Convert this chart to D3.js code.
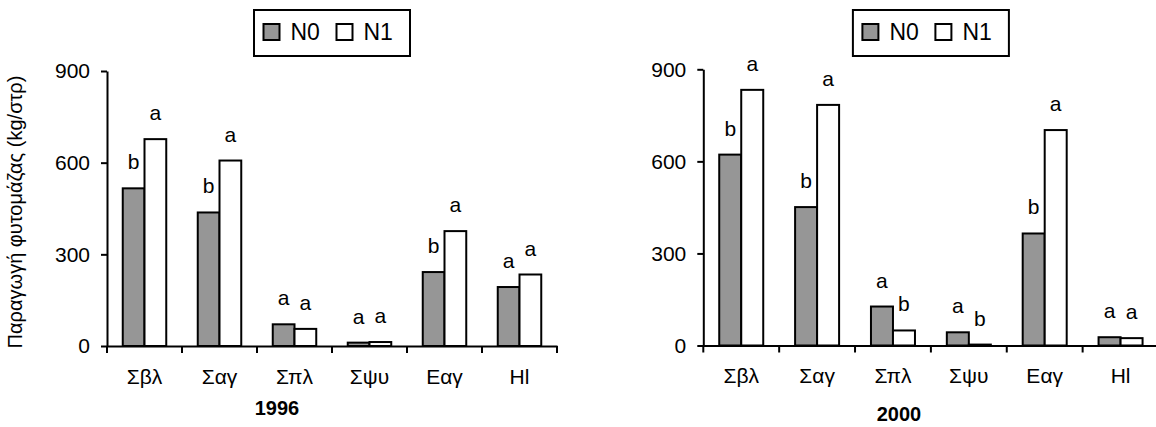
<!DOCTYPE html>
<html>
<head>
<meta charset="utf-8">
<script src="https://cdn.jsdelivr.net/npm/d3@7"></script>
<style>
  body { margin: 0; background: #fff; }
  svg { display: block; font-family: "Liberation Sans", Arial, sans-serif; }
</style>
</head>
<body>
<div id="chart"></div>
<script>
// chart values
const categories = ["Σβλ", "Σαγ", "Σπλ", "Σψυ", "Εαγ", "Hl"];
const series = ["N0", "N1"];
const yTicks = [0, 300, 600, 900];

const n0_1996 = [516, 437, 71, 11, 242, 193];
const n1_1996 = [677, 607, 56, 13, 376, 234];
const sig0_1996 = ["b", "b", "a", "a", "b", "a"];
const sig1_1996 = ["a", "a", "a", "a", "a", "a"];

const n0_2000 = [622, 451, 127, 43, 365, 27];
const n1_2000 = [833, 784, 49, 3, 702, 24];
const sig0_2000 = ["b", "b", "a", "a", "b", "a"];
const sig1_2000 = ["a", "a", "b", "b", "a", "a"];

const width = 1156;
const height = 427;
const gray = "#969696";
const pad = 0.42; // gap between category groups

const svg = d3.select("#chart").append("svg")
  .attr("width", width)
  .attr("height", height);

// y axis title (only on the left panel)
svg.append("text")
  .attr("transform", "translate(22,212) rotate(-90)")
  .attr("text-anchor", "middle")
  .style("font-size", "20px")
  .text("Παραγωγή φυτομάζας (kg/στρ)");

const panels = [
  { year: "1996", n0: n0_1996, n1: n1_1996, s0: sig0_1996, s1: sig1_1996,
    left: 107, right: 557, top: 71, bottom: 346, yearX: 277, yearY: 415 },
  { year: "2000", n0: n0_2000, n1: n1_2000, s0: sig0_2000, s1: sig1_2000,
    left: 703.3, right: 1158.5, top: 69.3, bottom: 345.5, yearX: 899, yearY: 421 }
];

panels.forEach(function (p) {
  const x = d3.scaleBand()
    .domain(categories)
    .range([p.left, p.right])
    .paddingInner(pad)
    .paddingOuter(pad / 2);

  const xs = d3.scaleBand()
    .domain(series)
    .range([0, x.bandwidth()]);

  const y = d3.scaleLinear()
    .domain([0, 900])
    .range([p.bottom, p.top]);

  const g = svg.append("g");

  const rows = categories.map(function (c, i) {
    return [
      { cat: c, key: "N0", value: p.n0[i], sig: p.s0[i] },
      { cat: c, key: "N1", value: p.n1[i], sig: p.s1[i] }
    ];
  }).flat();

  // bars
  g.selectAll("rect.bar")
    .data(rows)
    .enter().append("rect")
    .attr("class", "bar")
    .attr("x", d => x(d.cat) + xs(d.key))
    .attr("y", d => y(d.value))
    .attr("width", xs.bandwidth())
    .attr("height", d => y(0) - y(d.value))
    .attr("fill", d => d.key === "N0" ? gray : "#fff")
    .attr("stroke", "#000")
    .attr("stroke-width", 2);

  // significance letters
  g.selectAll("text.sig")
    .data(rows)
    .enter().append("text")
    .attr("class", "sig")
    .attr("x", d => x(d.cat) + xs(d.key) + xs.bandwidth() / 2)
    .attr("y", d => y(d.value) - 19)
    .attr("text-anchor", "middle")
    .style("font-size", "21px")
    .text(d => d.sig);

  // y axis
  const yAxis = g.append("g")
    .attr("transform", `translate(${p.left},0)`)
    .call(d3.axisLeft(y).tickValues(yTicks).tickSize(6).tickSizeOuter(0).tickPadding(11));
  yAxis.selectAll("path, line").attr("stroke", "#000").attr("stroke-width", 2);
  yAxis.selectAll("text").style("font-size", "21px").attr("fill", "#000")
    .style("font-family", "'Liberation Sans', Arial, sans-serif");

  // x axis
  const xAxis = g.append("g")
    .attr("transform", `translate(0,${p.bottom})`)
    .call(d3.axisBottom(x).tickSize(0).tickSizeOuter(0).tickPadding(23));
  xAxis.select("path").attr("stroke", "#000").attr("stroke-width", 2);
  xAxis.selectAll("text").style("font-size", "21px").attr("fill", "#000")
    .style("font-family", "'Liberation Sans', Arial, sans-serif");

  // boundary ticks between categories
  const bounds = categories.map(c => x(c) - x.step() * pad / 2).concat([p.right]);
  g.selectAll("line.bound")
    .data(bounds)
    .enter().append("line")
    .attr("class", "bound")
    .attr("x1", d => d).attr("x2", d => d)
    .attr("y1", p.bottom).attr("y2", p.bottom + 7)
    .attr("stroke", "#000")
    .attr("stroke-width", 2);

  // year label
  g.append("text")
    .attr("x", p.yearX)
    .attr("y", p.yearY)
    .attr("text-anchor", "middle")
    .style("font-size", "20px")
    .style("font-weight", "bold")
    .text(p.year);

  // legend
  const cx = (p.left + p.right) / 2;
  const lg = g.append("g").attr("transform", `translate(${cx - 78},10)`);
  lg.append("rect")
    .attr("width", 156).attr("height", 46)
    .attr("fill", "#fff").attr("stroke", "#000").attr("stroke-width", 2);
  const item = lg.selectAll("g.item")
    .data(series)
    .enter().append("g")
    .attr("class", "item")
    .attr("transform", (d, i) => `translate(${9.5 + i * 73},14)`);
  item.append("rect")
    .attr("width", 16).attr("height", 16)
    .attr("fill", d => d === "N0" ? gray : "#fff")
    .attr("stroke", "#000").attr("stroke-width", 2);
  item.append("text")
    .attr("x", 27)
    .attr("y", 16)
    .style("font-size", "23px")
    .text(d => d);
});
</script>
</body>
</html>
